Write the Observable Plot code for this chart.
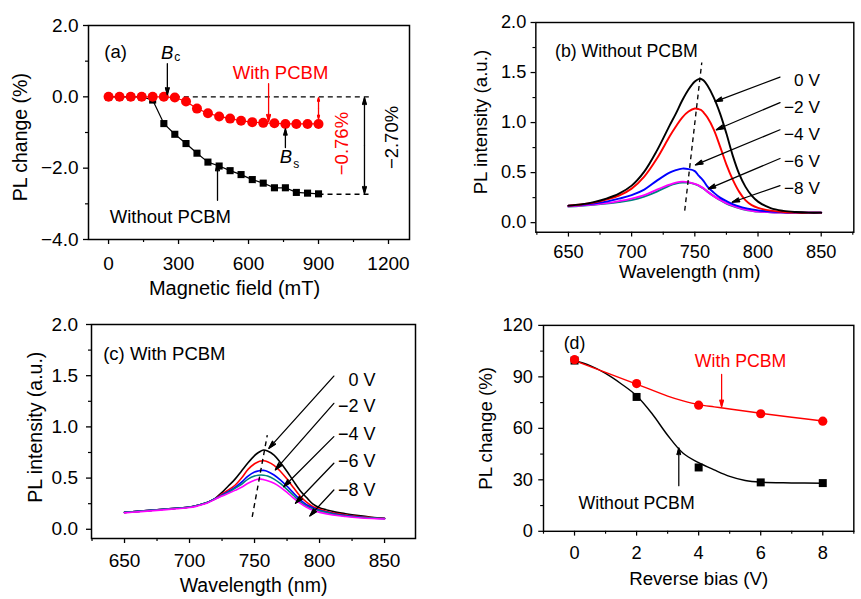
<!DOCTYPE html>
<html><head><meta charset="utf-8">
<script src="https://cdn.jsdelivr.net/npm/d3@7"></script>
<script src="https://cdn.jsdelivr.net/npm/@observablehq/plot@0.6"></script>
<style>
html,body{margin:0;padding:0;background:#fff;}
#fig{position:relative;width:861px;height:599px;overflow:hidden;background:#fff;}
#fig > div{position:absolute;}
</style></head><body><div id="fig"></div>
<script>
// ---------- Panel (a): PL change vs magnetic field ----------
const fieldA = [0,47,95,142,189,237,284,332,379,426,474,521,568,616,663,711,758,805,853,900];
const withPCBM_A = [0,0,0,0,0,0,-0.02,-0.13,-0.33,-0.46,-0.55,-0.61,-0.67,-0.71,-0.73,-0.74,-0.76,-0.76,-0.76,-0.76];
const withoutPCBM_A = [0,0,0,0,-0.09,-0.75,-1.05,-1.31,-1.58,-1.83,-1.94,-2.07,-2.18,-2.32,-2.42,-2.55,-2.55,-2.68,-2.70,-2.72];
const ticksAx = [0,300,600,900,1200];
const ticksAy = [-4,-2,0,2];

// ---------- Panel (b): spectra without PCBM ----------
const wlB = [650,660,670,680,690,700,710,720,730,735,740,745,750,753,755,757,760,765,770,775,780,785,790,795,800,810,820,830,840,850];
const b0V  = [.17,.183,.205,.24,.29,.37,.51,.72,.97,1.09,1.22,1.33,1.41,1.435,1.435,1.42,1.37,1.25,1.09,.89,.67,.49,.36,.27,.21,.145,.118,.106,.10,.10];
const bm2V = [.17,.182,.2,.23,.27,.34,.46,.64,.86,.96,1.05,1.11,1.14,1.135,1.125,1.10,1.05,.93,.76,.58,.43,.31,.225,.175,.148,.12,.107,.10,.10,.10];
const bm4V = [.17,.178,.19,.21,.24,.275,.33,.42,.50,.525,.54,.535,.515,.47,.445,.415,.36,.30,.25,.215,.185,.162,.145,.133,.123,.11,.104,.10,.10,.10];
const bm6V = [.16,.168,.178,.19,.205,.225,.26,.31,.37,.39,.40,.40,.385,.37,.355,.34,.31,.265,.225,.19,.165,.145,.128,.118,.11,.104,.10,.10,.10,.10];
const bm8V = [.163,.172,.182,.195,.215,.24,.275,.33,.38,.40,.41,.405,.387,.372,.357,.342,.31,.265,.228,.195,.17,.148,.13,.118,.11,.104,.10,.10,.10,.10];

// ---------- Panel (c): spectra with PCBM ----------
const wlC = [650,660,670,680,690,700,705,710,715,720,725,730,735,740,745,750,753,755,757,760,765,770,775,780,785,790,795,800,810,820,830,840,850];
const c0V  = [.165,.175,.185,.195,.205,.217,.229,.247,.27,.305,.36,.425,.49,.57,.65,.72,.75,.765,.775,.765,.725,.65,.565,.47,.38,.31,.245,.21,.175,.152,.133,.118,.107];
const cm2V = [.165,.175,.185,.195,.205,.217,.229,.247,.27,.30,.345,.385,.43,.50,.585,.64,.66,.667,.67,.66,.625,.565,.49,.405,.325,.265,.22,.195,.16,.14,.125,.115,.105];
const cm4V = [.165,.175,.185,.195,.205,.217,.229,.247,.27,.30,.335,.37,.41,.46,.52,.56,.57,.575,.575,.565,.53,.48,.42,.355,.29,.24,.21,.185,.155,.135,.12,.11,.105];
const cm6V = [.165,.175,.185,.195,.205,.217,.229,.247,.27,.298,.33,.362,.40,.44,.49,.52,.528,.53,.528,.52,.49,.445,.39,.33,.27,.225,.198,.18,.15,.13,.118,.11,.103];
const cm8V = [.16,.17,.18,.19,.2,.212,.224,.242,.265,.295,.325,.352,.38,.41,.45,.48,.49,.49,.485,.475,.45,.41,.36,.305,.255,.215,.185,.165,.14,.125,.113,.105,.10];
const voltLabels = ["0 V","\u22122 V","\u22124 V","\u22126 V","\u22128 V"];
const voltColors = ["#000000","#ff0000","#0000ff","#008080","#ff00ff"];

// ---------- Panel (d): PL change vs reverse bias ----------
const biasD = [0,2,4,6,8];
const withPCBM_D = [100,86.1,73.5,68.5,64.2];
const withoutPCBM_D = [99.5,78.3,37.2,28.5,28.1];
const fitWithoutX = [0,0.5,1,1.5,2,2.5,3,3.5,4,4.5,5,5.5,6,7,8];
const fitWithoutY = [99.5,96.5,92,86,79,68.5,56,45.5,40,35.8,32,29.6,28.6,28.2,28];
const fitWithX = [0,1,2,3,3.5,4,4.5,5,6,7,8];
const fitWithY = [99.5,92.6,85.8,78.8,76,73.8,72.5,71.3,68.8,66.5,64.3];

// ---------- helpers ----------
const FONT = "'Liberation Sans', Arial, Helvetica, sans-serif";
const TICK = 19, LAB = 19.5, ANN = 18.5;
const T = (x, y, text, o = {}) => Plot.text([{x, y, text}], {x: "x", y: "y", text: "text", fontSize: ANN, fill: "black", ...o});
const AR = (x1, y1, x2, y2, o = {}) => Plot.arrow([{x1, y1, x2, y2}], {x1: "x1", y1: "y1", x2: "x2", y2: "y2", stroke: "black", strokeWidth: 1.3, headLength: 9, headAngle: 30, ...o});
const DASH = (x1, y1, x2, y2) => Plot.link([{x1, y1, x2, y2}], {x1: "x1", y1: "y1", x2: "x2", y2: "y2", stroke: "black", strokeWidth: 1.4, strokeDasharray: "5,4"});
const yLabel = (text, dx, dy) => Plot.text([text], {text: d => d, frameAnchor: "left", rotate: -90, dx, dy, textAnchor: "middle", lineAnchor: "middle", fontSize: LAB, fill: "black"});
const xLabel = (text, dx, dy, fs = LAB) => Plot.text([text], {text: d => d, frameAnchor: "bottom", dx, dy, textAnchor: "middle", lineAnchor: "middle", fontSize: fs, fill: "black"});
const axes = (xt, xm, yt, ym, xfmt, yfmt, xpad, ypad) => [
  Plot.axisY({ticks: yt, tickSize: 5, tickPadding: ypad, tickFormat: yfmt, label: null, strokeWidth: 1.3, fontSize: TICK}),
  Plot.axisY({ticks: ym, tickSize: 3, tickFormat: () => "", label: null, strokeWidth: 1.2}),
  Plot.axisX({ticks: xt, tickSize: 5, tickPadding: xpad, tickFormat: xfmt, label: null, strokeWidth: 1.3, fontSize: TICK}),
  Plot.axisX({ticks: xm, tickSize: 3, tickFormat: () => "", label: null, strokeWidth: 1.2}),
  Plot.frame({stroke: "black", strokeWidth: 1.5})
];
const style = {fontFamily: FONT, fontSize: TICK + "px", background: "transparent", overflow: "visible", color: "black"};
const fig = document.getElementById("fig");

// fill the open arrow heads drawn by Plot.arrow so they look like solid heads
function solidHeads(svg) {
  svg.querySelectorAll('g[aria-label="arrow"] path').forEach(p => {
    const nums = (p.getAttribute("d") || "").match(/-?\d*\.?\d+(?:e-?\d+)?/gi);
    if (!nums || nums.length < 10) return;
    const n = nums.slice(-6).map(Number);
    const col = getComputedStyle(p).stroke;
    const tri = document.createElementNS("http://www.w3.org/2000/svg", "path");
    tri.setAttribute("d", `M${n[0]},${n[1]}L${n[2]},${n[3]}L${n[4]},${n[5]}Z`);
    tri.setAttribute("fill", col);
    tri.setAttribute("stroke", col);
    tri.setAttribute("stroke-width", "0.8");
    p.parentNode.appendChild(tri);
  });
}
function place(svg, left, top) {
  const d = document.createElement("div");
  d.style.left = left + "px"; d.style.top = top + "px";
  d.appendChild(svg); fig.appendChild(d);
  solidHeads(svg);
}
function spectra(wl, series) {
  const rows = [];
  series.forEach((vals, k) => vals.forEach((v, i) => rows.push({wl: wl[i], v, k})));
  return rows;
}

// ---------- Panel (a) ----------
const recA = fieldA.map((x, i) => ({x, w: withPCBM_A[i], wo: withoutPCBM_A[i]}));
const plotA = Plot.plot({
  width: 430, height: 300, marginLeft: 88, marginRight: 21, marginTop: 25, marginBottom: 61,
  x: {domain: [-86, 1290], label: null}, y: {domain: [-4, 2], label: null}, style,
  marks: [
    ...axes(ticksAx, [150,450,750,1050], ticksAy, [-3,-1,1], d3.format("d"), d3.format(".1f"), 12, 5),
    DASH(284, 0, 1123, 0),
    DASH(900, -2.73, 1123, -2.73),
    Plot.line(recA, {x: "x", y: "wo", stroke: "black", strokeWidth: 1.2}),
    Plot.dot(recA, {x: "x", y: "wo", symbol: "square", r: 4, fill: "black"}),
    Plot.line(recA, {x: "x", y: "w", stroke: "red", strokeWidth: 1.2}),
    Plot.dot(recA, {x: "x", y: "w", r: 5, fill: "red"}),
    T(30, 1.25, "(a)"),
    T(251, 1.224, "B", {fontStyle: "italic"}),
    T(294, 1.11, "c", {fontSize: 12}),
    AR(252, 0.93, 252, 0.06, {headLength: 8}),
    T(737, 0.654, "With PCBM", {fill: "red"}),
    AR(686, 0.37, 686, -0.69, {stroke: "red", headLength: 8}),
    T(760, -1.69, "B", {fontStyle: "italic"}),
    T(805, -1.897, "s", {fontSize: 12}),
    AR(758, -1.42, 758, -0.9, {headLength: 8}),
    AR(900, -0.32, 900, -0.02, {stroke: "red", headLength: 6}),
    AR(900, -0.32, 900, -0.62, {stroke: "red", headLength: 6}),
    T(1003, -1.31, "\u22120.76%", {fill: "red", rotate: -90}),
    AR(1097, -1.36, 1097, -0.02, {headLength: 8}),
    AR(1097, -1.36, 1097, -2.71, {headLength: 8}),
    T(1217, -1.14, "\u22122.70%", {rotate: -90}),
    T(265, -3.38, "Without PCBM"),
    AR(467, -2.9, 467, -1.88, {headLength: 8}),
    yLabel("PL change (%)", -68, 4.7),
    xLabel("Magnetic field (mT)", -14.5, 49, 20)
  ]
});
place(plotA, 0, 0);

// ---------- Panel (b) ----------
const recB = spectra(wlB, [b0V, bm2V, bm4V, bm6V, bm8V]);
const plotB = Plot.plot({
  width: 450, height: 300, marginLeft: 110, marginRight: 8, marginTop: 23, marginBottom: 58,
  x: {domain: [624.2, 875.8], label: null}, y: {domain: [-0.096, 2.0], label: null}, style,
  marks: [
    ...axes([650,700,750,800,850], [625,675,725,775,825,875], [0,0.5,1,1.5,2], [0.25,0.75,1.25,1.75], d3.format("d"), d3.format(".1f"), 8, 5),
    ...[3, 4, 2, 1, 0].map(k => Plot.line(recB.filter(d => d.k === k), {x: "wl", y: "v", stroke: voltColors[k], strokeWidth: 2, curve: "catmull-rom"})),
    DASH(742, 0.12, 755.5, 1.60),
    T(639.4, 1.71, "(b) Without PCBM", {textAnchor: "start"}),
    AR(817.4, 1.455, 766, 1.21),
    AR(817.4, 1.20, 767, 0.928),
    AR(817.4, 0.928, 750.5, 0.577),
    AR(817.4, 0.641, 760.6, 0.338),
    AR(817.4, 0.37, 779.5, 0.204),
    ...voltLabels.map((t, i) => T(849, [1.42, 1.15, 0.88, 0.61, 0.34][i], t, {textAnchor: "end", fontSize: 18})),
    yLabel("PL intensity (a.u.)", -57, -5.5),
    xLabel("Wavelength (nm)", -5.3, 42)
  ]
});
place(plotB, 430, 0);

// ---------- Panel (c) ----------
const recC = spectra(wlC, [c0V, cm2V, cm4V, cm6V, cm8V]);
const plotC = Plot.plot({
  width: 430, height: 299, marginLeft: 91, marginRight: 15, marginTop: 24, marginBottom: 61,
  x: {domain: [624.6, 873.8], label: null}, y: {domain: [-0.09, 2.0], label: null}, style,
  marks: [
    ...axes([650,700,750,800,850], [625,675,725,775,825], [0,0.5,1,1.5,2], [0.25,0.75,1.25,1.75], d3.format("d"), d3.format(".1f"), 10, 8.5),
    ...[0, 1, 2, 3, 4].map(k => Plot.line(recC.filter(d => d.k === k), {x: "wl", y: "v", stroke: voltColors[k], strokeWidth: 1.6, curve: "catmull-rom"})),
    DASH(748.2, 0.12, 759.8, 0.92),
    T(633.6, 1.71, "(c) With PCBM", {textAnchor: "start"}),
    AR(811, 1.496, 761, 0.79),
    AR(811, 1.23, 766, 0.58),
    AR(811, 0.905, 772.5, 0.416),
    AR(811, 0.645, 781.5, 0.254),
    AR(811, 0.384, 792.5, 0.13),
    ...voltLabels.map((t, i) => T(843, [1.46, 1.20, 0.93, 0.66, 0.384][i], t, {textAnchor: "end", fontSize: 18})),
    yLabel("PL intensity (a.u.)", -56, -4.3),
    xLabel("Wavelength (nm)", 0, 47)
  ]
});
place(plotC, 0, 300);

// ---------- Panel (d) ----------
const recD = biasD.map((x, i) => ({x, w: withPCBM_D[i], wo: withoutPCBM_D[i]}));
const fitWo = fitWithoutX.map((x, i) => ({x, y: fitWithoutY[i]}));
const fitW = fitWithX.map((x, i) => ({x, y: fitWithY[i]}));
const plotD = Plot.plot({
  width: 450, height: 299, marginLeft: 118, marginRight: 8, marginTop: 26, marginBottom: 58,
  x: {domain: [-1, 9], label: null}, y: {domain: [0, 120], label: null}, style,
  marks: [
    ...axes([0,2,4,6,8], [-1,1,3,5,7,9], [0,30,60,90,120], [15,45,75,105], d3.format("d"), d3.format("d"), 10, 6),
    Plot.line(fitWo, {x: "x", y: "y", stroke: "black", strokeWidth: 1.5, curve: "catmull-rom"}),
    Plot.line(fitW, {x: "x", y: "y", stroke: "red", strokeWidth: 1.5, curve: "catmull-rom"}),
    Plot.dot(recD, {x: "x", y: "wo", symbol: "square", r: 4.7, fill: "black"}),
    Plot.dot(recD, {x: "x", y: "w", r: 4.8, fill: "red"}),
    T(0, 109.4, "(d)"),
    T(5.35, 99.2, "With PCBM", {fill: "red"}),
    AR(4.74, 91.4, 4.74, 72.6, {stroke: "red", headLength: 8}),
    T(2.0, 16.35, "Without PCBM"),
    AR(3.36, 26.6, 3.36, 48.6, {headLength: 8}),
    yLabel("PL change (%)", -60, 0),
    xLabel("Reverse bias (V)", 0, 50)
  ]
});
place(plotD, 430, 300);
</script></body></html>
